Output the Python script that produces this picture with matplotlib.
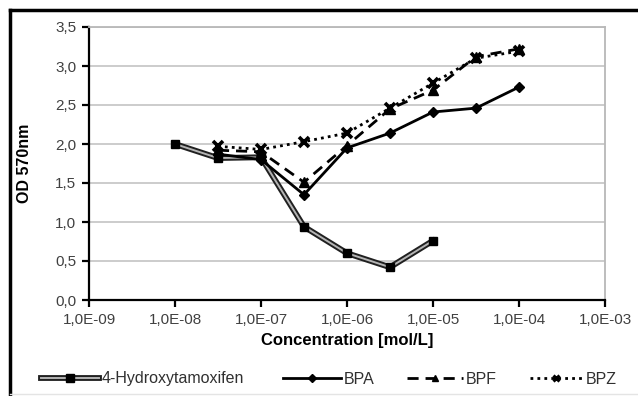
import matplotlib
matplotlib.use("Agg")
import matplotlib.pyplot as plt
from matplotlib.lines import Line2D
from matplotlib.legend_handler import HandlerTuple
import matplotlib.patheffects as pe

plt.rcParams['font.family'] = ['Liberation Sans', 'DejaVu Sans']

conc_ht = [1e-8, 3.16e-8, 1e-7, 3.16e-7, 1e-6, 3.16e-6, 1e-5]
od_ht = [2.00, 1.82, 1.83, 0.94, 0.60, 0.42, 0.76]

conc_b = [3.16e-8, 1e-7, 3.16e-7, 1e-6, 3.16e-6, 1e-5, 3.16e-5, 1e-4]
od_bpa = [1.87, 1.80, 1.35, 1.95, 2.14, 2.41, 2.46, 2.73]
od_bpf = [1.92, 1.90, 1.51, 1.98, 2.45, 2.69, 3.12, 3.22]
od_bpz = [1.97, 1.93, 2.03, 2.14, 2.46, 2.78, 3.10, 3.19]

series_names = ["4-Hydroxytamoxifen", "BPA", "BPF", "BPZ"]
xticks = [1e-9, 1e-8, 1e-7, 1e-6, 1e-5, 1e-4, 1e-3]
xticklabels = ["1,0E-09", "1,0E-08", "1,0E-07", "1,0E-06", "1,0E-05", "1,0E-04", "1,0E-03"]
yticks = [0, 0.5, 1.0, 1.5, 2.0, 2.5, 3.0, 3.5]
yticklabels = ["0,0", "0,5", "1,0", "1,5", "2,0", "2,5", "3,0", "3,5"]

W, H = 638, 396
fig = plt.figure(figsize=(W/100, H/100), dpi=100)
ax = fig.add_axes([89/W, 1-300/H, (605-89)/W, (300-27)/H])

ax.set_xscale('log')
ax.set_xlim(1e-9, 1e-3)
ax.set_ylim(0, 3.5)
ax.set_yticks(yticks)
ax.set_yticklabels(yticklabels)
ax.set_xticks(xticks)
ax.set_xticklabels(xticklabels)
ax.xaxis.set_minor_locator(matplotlib.ticker.NullLocator())
ax.grid(axis='y', color='#c8c8c8', lw=1.3)
ax.set_axisbelow(True)
for s in ['top', 'right']:
    ax.spines[s].set_color('#b8b8b8')
    ax.spines[s].set_linewidth(1.3)
for s in ['left', 'bottom']:
    ax.spines[s].set_color('black')
    ax.spines[s].set_linewidth(1.6)
ax.tick_params(axis='both', labelsize=11, labelcolor='#404040')
ax.tick_params(axis='x', direction='out', length=5, width=1.6, pad=4)
ax.tick_params(axis='y', direction='out', length=5, width=1.6, pad=4)

ht_line = dict(color='#b4b4b4', lw=1.4,
               path_effects=[pe.Stroke(linewidth=4.2, foreground='#202020'), pe.Normal()])
ht_mark = dict(ls='none', marker='s', ms=6, color='black')
bpa_style = dict(color='black', lw=2, marker='D', ms=5)
bpf_style = dict(color='black', lw=2, ls=(0, (4, 2.5)), marker='^', ms=6.5)
bpz_style = dict(color='black', lw=2, ls=(0, (1, 1.5)), marker='x', ms=7, mew=2.6)

ax.plot(conc_ht, od_ht, zorder=3, **ht_line)
ax.plot(conc_ht, od_ht, zorder=3.1, **ht_mark)
ax.plot(conc_b, od_bpa, zorder=4, **bpa_style)
ax.plot(conc_b, od_bpf, zorder=4, **bpf_style)
ax.plot(conc_b, od_bpz, zorder=4, **bpz_style)

ax.set_ylabel("OD 570nm", fontsize=11.5, fontweight='bold')
ax.set_xlabel("Concentration [mol/L]", fontsize=12, fontweight='bold', labelpad=5)
ax.yaxis.set_label_coords(-57/(605-89), 0.5)

# legends (one per entry, placed like the reference)
handles = [(Line2D([], [], **ht_line), Line2D([], [], **ht_mark)),
           Line2D([], [], **dict(bpa_style, ms=4)),
           Line2D([], [], **dict(bpf_style, ms=5)),
           Line2D([], [], **dict(bpz_style, ms=5, mew=2.2))]
starts = [41, 283, 407, 530]
hlens = [3.6, 3.6, 3.5, 3.3]
for h, name, x0, hl in zip(handles, series_names, starts, hlens):
    leg = fig.legend([h], [name], loc='center left', bbox_to_anchor=(x0/W, 1-379/H),
                     frameon=False, fontsize=11.5, handlelength=hl, handletextpad=0.2,
                     borderpad=0, borderaxespad=0,
                     handler_map={tuple: HandlerTuple(ndivide=1, pad=0)})
    for t in leg.get_texts():
        t.set_color('#303030')

# outer frame (left and top)
fig.add_artist(Line2D([10/W, 10/W], [0, 1-10/H], color='black', lw=2.5, transform=fig.transFigure))
fig.add_artist(Line2D([10/W, 1], [1-10/H, 1-10/H], color='black', lw=2.5, transform=fig.transFigure))
fig.add_artist(Line2D([10/W, 1], [1-394/H, 1-394/H], color='#e4e4e4', lw=1, transform=fig.transFigure))

fig.savefig("out.png", dpi=100)
